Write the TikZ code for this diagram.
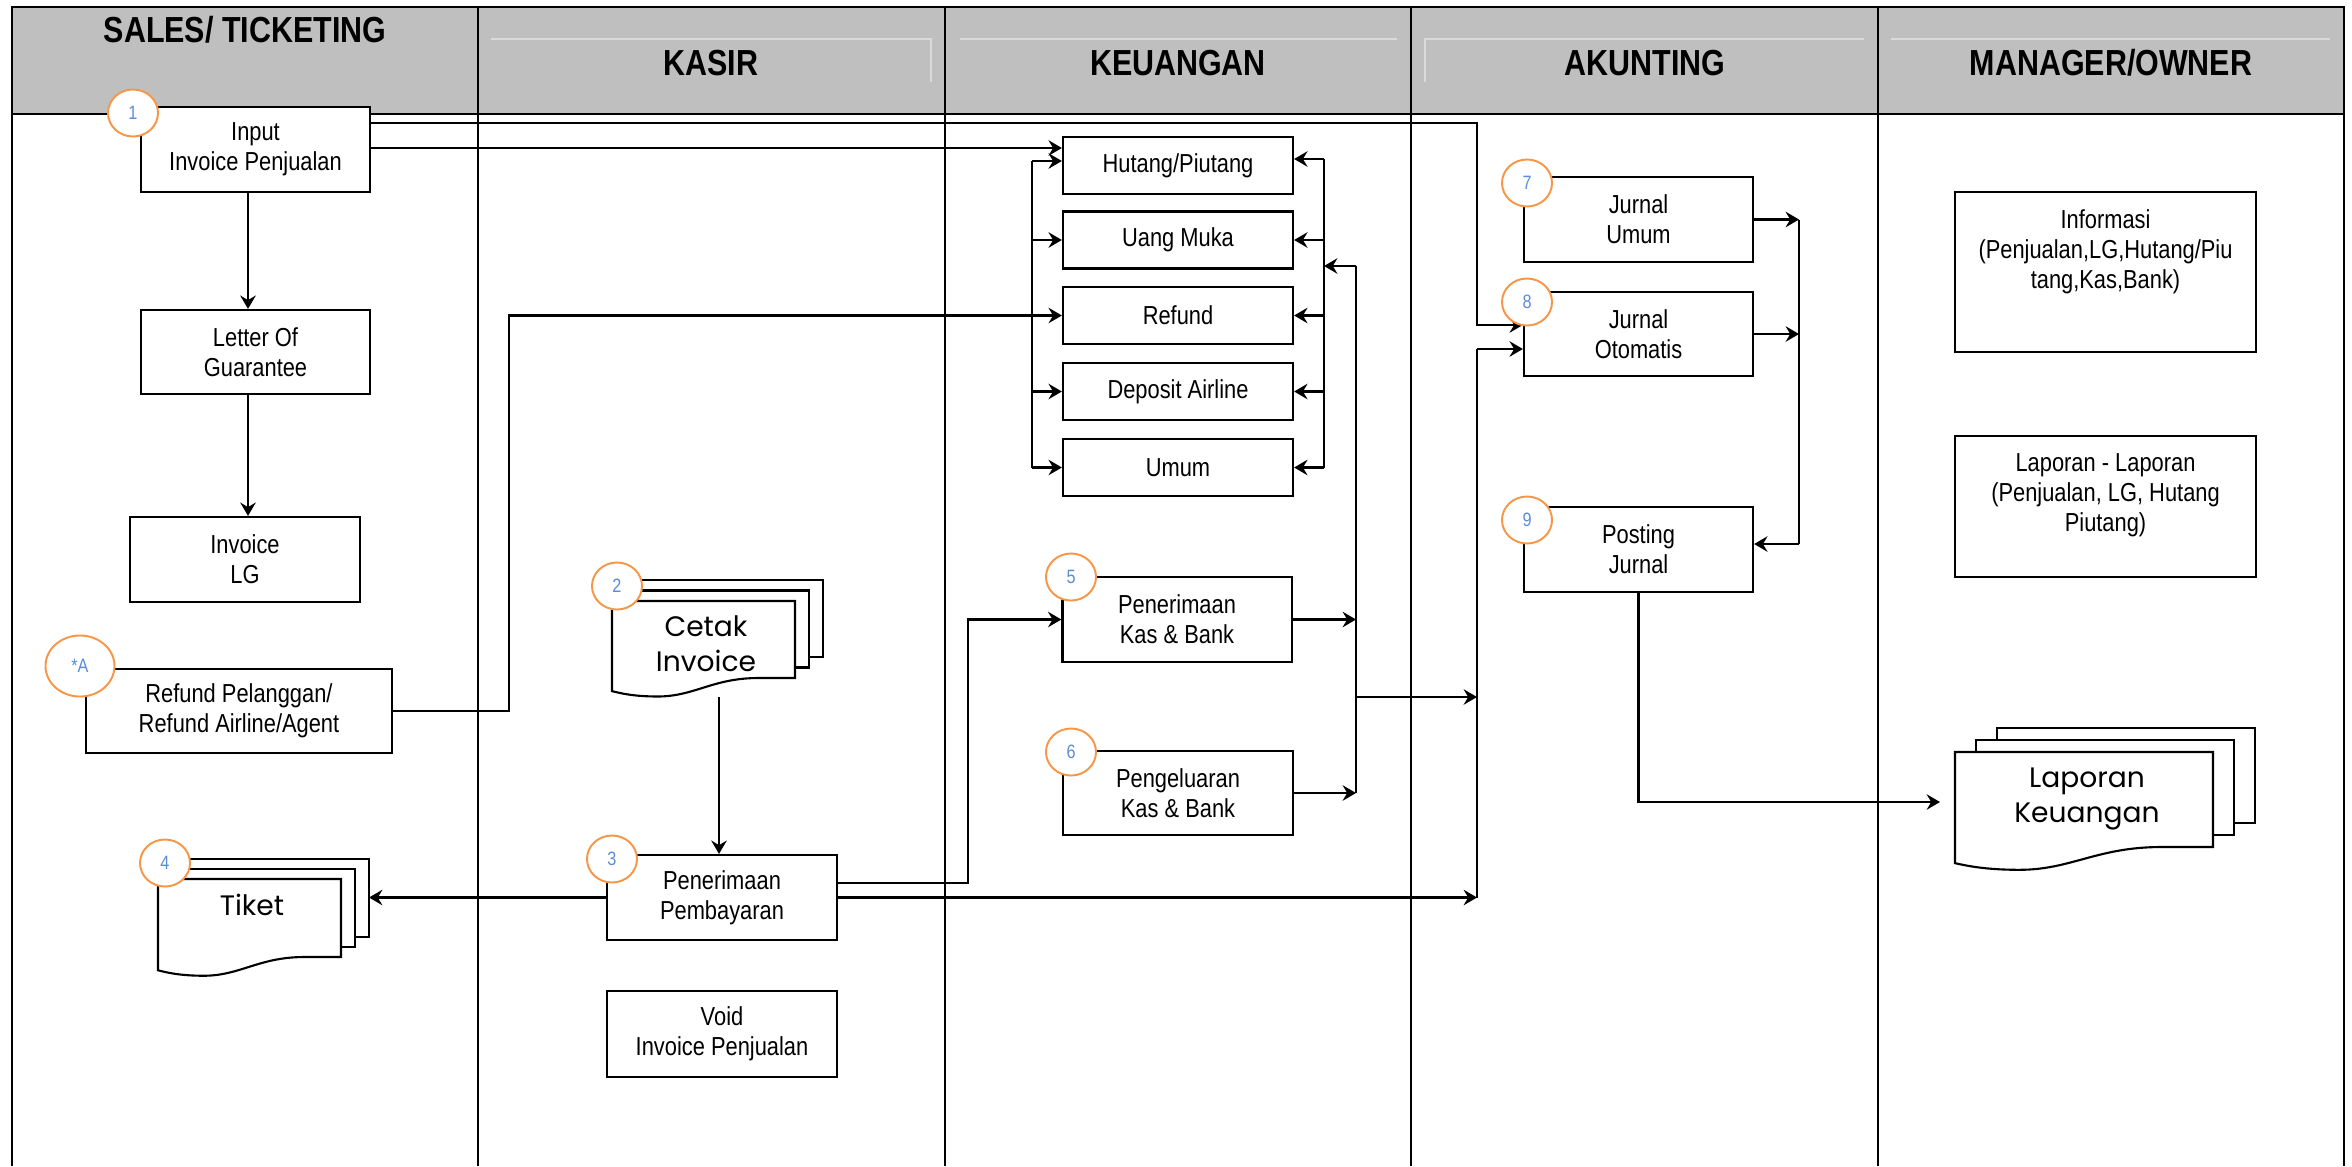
\documentclass[tikz,border=0pt]{standalone}
\usepackage{fontspec}
\setmainfont{Liberation Sans}[FakeStretch=0.84]
\newfontfamily\docfont{Poppins}
\usetikzlibrary{shapes.geometric,arrows.meta}
\definecolor{hdrgray}{RGB}{191,191,191}
\definecolor{faint}{RGB}{218,218,218}
\definecolor{numorange}{RGB}{247,150,70}
\definecolor{numblue}{RGB}{91,141,214}
\tikzset{
  pics/docstack/.style n args={4}{code={
    \draw[page] ({2*#3},{-2*#4}) rectangle ++(#1,#2);
    \draw[page] (#3,-#4) rectangle ++(#1,#2);
    \draw[page] (0,0) -- (#1,0) -- (#1,#2) -- ({0.8*#1},#2)
      .. controls ({0.55*#1},#2) and ({0.45*#1},{1.24*#2}) .. ({0.25*#1},{1.24*#2})
      .. controls ({0.12*#1},{1.24*#2}) and ({0.05*#1},{1.2*#2}) .. (0,{1.17*#2}) -- cycle;
  }}
}
\begin{document}
\begin{tikzpicture}[x=0.01cm,y=-0.01cm,
  box/.style={draw, line width=0.6pt, fill=white, rectangle, inner sep=0pt, align=center, font=\fontsize{7.4}{8.55}\selectfont},
  txt/.style={align=center, inner sep=0pt, font=\fontsize{7.4}{8.55}\selectfont},
  num/.style={ellipse, draw=numorange, line width=0.55pt, fill=white, inner sep=0pt, minimum width=0.5cm, minimum height=0.47cm, text=numblue, font=\fontsize{5.5}{6}\selectfont},
  arr/.style={-{Stealth[length=3.8pt,width=4.4pt,inset=1.3pt]}, line width=0.6pt},
  conn/.style={line width=0.6pt},
  lane/.style={line width=0.65pt},
  hdr/.style={font=\bfseries\fontsize{10.3}{12}\selectfont, inner sep=0pt},
  doctxt/.style={font=\docfont\fontsize{8}{10}\selectfont, inner sep=0pt, align=center},
  page/.style={draw, line width=0.6pt, fill=white},
]
\useasboundingbox (0,0) rectangle (2352,1166);
\fill[white] (0,0) rectangle (2352,1166);

% header and lanes
\fill[hdrgray] (12,7) rectangle (2344,114);
\draw[faint, line width=0.3pt] (491,39) -- (931,39) -- (931,82);
\draw[faint, line width=0.3pt] (960,39) -- (1397,39);
\draw[faint, line width=0.3pt] (1425,82) -- (1425,39) -- (1864,39);
\draw[faint, line width=0.3pt] (1891,39) -- (2330,39);
\draw[lane] (12,1166) -- (12,7) -- (2344,7) -- (2344,1166);
\draw[line width=0.75pt] (12,114) -- (2344,114);
\foreach \x in {478,945,1411,1878} \draw[lane] (\x,7) -- (\x,1166);

\node[hdr] (hsales) at (245,30) {SALES/ TICKETING};
\node[hdr] (hkasir) at (711,63) {KASIR};
\node[hdr] (hkeu) at (1178,63) {KEUANGAN};
\node[hdr] (hakun) at (1645,63) {AKUNTING};
\node[hdr] (hman) at (2111,63) {MANAGER/OWNER};

% boxes
\node[box, minimum width=2.29cm, minimum height=0.85cm] (inv) at (255.5,149.5) {Input\\Invoice Penjualan};
\node[box, minimum width=2.29cm, minimum height=0.84cm] (log) at (255.5,352) {Letter Of\\Guarantee};
\node[box, minimum width=2.30cm, minimum height=0.85cm] (invlg) at (245,559.5) {Invoice\\LG};
\node[box, minimum width=3.06cm, minimum height=0.84cm] (rfp) at (239,711) {Refund Pelanggan/\\Refund Airline/Agent};
\node[box, minimum width=2.30cm, minimum height=0.85cm] (pp) at (722,897.5) {Penerimaan\\Pembayaran};
\node[box, minimum width=2.30cm, minimum height=0.86cm] (void) at (722,1034) {Void\\Invoice Penjualan};

\node[box, minimum width=2.30cm, minimum height=0.57cm] (hp) at (1178,165.5) {Hutang/Piutang};
\node[box, minimum width=2.30cm, minimum height=0.57cm] (um) at (1178,240) {Uang Muka};
\node[box, minimum width=2.30cm, minimum height=0.57cm] (rf) at (1178,315.5) {Refund};
\node[box, minimum width=2.30cm, minimum height=0.57cm] (da) at (1178,391.5) {Deposit Airline};
\node[box, minimum width=2.30cm, minimum height=0.57cm] (umum) at (1178,467.5) {Umum};
\node[box, minimum width=2.29cm, minimum height=0.85cm] (pkb) at (1177,619.5) {Penerimaan\\Kas \& Bank};
\node[box, minimum width=2.30cm, minimum height=0.84cm] (pgk) at (1178,793) {Pengeluaran\\Kas \& Bank};

\node[box, minimum width=2.29cm, minimum height=0.85cm] (ju) at (1638.5,219.5) {Jurnal\\Umum};
\node[box, minimum width=2.29cm, minimum height=0.84cm] (jo) at (1638.5,334) {Jurnal\\Otomatis};
\node[box, minimum width=2.29cm, minimum height=0.85cm] (pj) at (1638.5,549.5) {Posting\\Jurnal};

\node[box, minimum width=3.01cm, minimum height=1.60cm] (info) at (2105.5,272) {};
\node[txt, anchor=north] (infotxt) at (2105.5,209) {Informasi\\(Penjualan,LG,Hutang/Piu\\tang,Kas,Bank)};
\node[box, minimum width=3.01cm, minimum height=1.41cm] (lap) at (2105.5,506.5) {};
\node[txt, anchor=north] (laptxt) at (2105.5,453) {Laporan - Laporan\\(Penjualan, LG, Hutang\\Piutang)};

% document stacks
\pic at (612,601) {docstack={183}{77}{14}{10.5}};
\pic at (158,879) {docstack={183}{78}{14}{10}};
\pic at (1955,752) {docstack={258}{95}{21}{12}};
\begin{scope}
  \clip (600,560) rectangle (830,671);
  \node[doctxt] (cetak) at (706,644) {Cetak\\Invoice};
\end{scope}
\node[doctxt, anchor=base] (tiket) at (252,915) {Tiket};
\node[doctxt] (lk) at (2087,799) {Laporan\\Keuangan};

% named connector points
\coordinate (tiketR) at (369,898);
\coordinate (cetB) at (719,697);
\coordinate (invK) at (1477,123);
\coordinate (lbT) at (1032,161);
\coordinate (lbB) at (1032,467.5);
\coordinate (rbT) at (1324,159);
\coordinate (rbB) at (1324,467.5);
\coordinate (kvT) at (1356,266);
\coordinate (kvB) at (1356,793);
\coordinate (akV) at (1477,697);
\coordinate (jbT) at (1799,219.5);
\coordinate (jbB) at (1799,544);
\coordinate (lkIn) at (1940,802);

% sales connectors
\draw[arr] (inv.south -| 248,0) -- (log.north -| 248,0);
\draw[arr] (log.south -| 248,0) -- (invlg.north -| 248,0);
\draw[arr] (inv.east |- 0,148) -- (hp.west |- 0,148);
\draw[arr] (inv.east |- invK) -- (invK) |- (jo.west |- 0,325);
\draw[arr] (rfp.east) -| (rf.west -| 509,0) -- (rf.west);

% keuangan buses
\draw[conn] (lbT) -- (lbB);
\draw[arr] (lbT) -- (lbT -| hp.west);
\draw[arr] (lbT |- um.west) -- (um.west);
\draw[arr] (lbT |- da.west) -- (da.west);
\draw[arr] (lbB) -- (umum.west);
\draw[conn] (rbT) -- (rbB);
\draw[arr] (rbT) -- (rbT -| hp.east);
\draw[arr] (rbT |- um.east) -- (um.east);
\draw[arr] (rbT |- rf.east) -- (rf.east);
\draw[arr] (rbT |- da.east) -- (da.east);
\draw[arr] (rbB) -- (umum.east);
\draw[arr] (kvT) -- (kvT -| rbT);
\draw[conn] (kvT) -- (kvB);
\draw[arr] (pkb.east) -- (pkb.east -| kvT);
\draw[arr] (pgk.east) -- (kvB);
\draw[arr] (kvT |- akV) -- (akV);

% kasir connectors
\draw[arr] (cetB) -- (cetB |- pp.north);
\draw[arr] (pp.west) -- (pp.west -| tiketR);
\draw[arr] (pp.east |- 0,883) -| (pkb.west -| 968,0) -- (pkb.west);
\draw[arr] (pp.east) -- (pp.east -| akV);
\draw[conn] (akV |- pp.east) -- (akV |- 0,349);
\draw[arr] (akV |- 0,349) -- (jo.west |- 0,349);

% akunting connectors
\draw[arr] (ju.east) -- (jbT);
\draw[arr] (jo.east) -- (jo.east -| jbT);
\draw[conn] (jbT) -- (jbB);
\draw[arr] (jbB) -- (jbB -| pj.east);
\draw[arr] (pj.south) |- (lkIn);

% number markers
\node[num] (c1) at (133,113) {1};
\node[num, minimum width=0.69cm, minimum height=0.61cm] (cA) at (80,666) {*A};
\node[num] (c2) at (617,586) {2};
\node[num] (c3) at (612,859) {3};
\node[num] (c4) at (165,863) {4};
\node[num] (c5) at (1071,577) {5};
\node[num] (c6) at (1071,752) {6};
\node[num] (c7) at (1527,183) {7};
\node[num] (c8) at (1527,302) {8};
\node[num] (c9) at (1527,520) {9};
\end{tikzpicture}
\end{document}
